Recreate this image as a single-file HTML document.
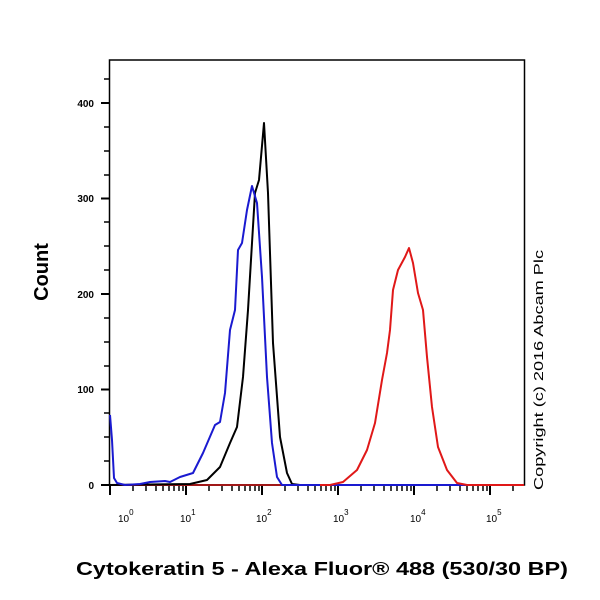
<!DOCTYPE html>
<html><head><meta charset="utf-8"><style>html,body{margin:0;padding:0;background:#fff}svg{display:block}</style></head>
<body>
<svg width="600" height="600" viewBox="0 0 600 600" xmlns="http://www.w3.org/2000/svg" font-family="Liberation Sans, sans-serif">
<rect width="600" height="600" fill="#fff"/>
<!-- plot box -->
<rect x="109.5" y="60" width="415" height="425" fill="none" stroke="#000" stroke-width="1.5"/>
<!-- y ticks -->
<g stroke="#000" stroke-width="2">
<line x1="101" y1="485" x2="109" y2="485"/><line x1="101" y1="389.5" x2="109" y2="389.5"/>
<line x1="101" y1="294" x2="109" y2="294"/><line x1="101" y1="198.5" x2="109" y2="198.5"/>
<line x1="101" y1="103" x2="109" y2="103"/>
</g>
<g stroke="#000" stroke-width="1.5">
<line x1="104" y1="461" x2="109" y2="461"/><line x1="104" y1="437" x2="109" y2="437"/><line x1="104" y1="413" x2="109" y2="413"/>
<line x1="104" y1="366" x2="109" y2="366"/><line x1="104" y1="342" x2="109" y2="342"/><line x1="104" y1="318" x2="109" y2="318"/>
<line x1="104" y1="270" x2="109" y2="270"/><line x1="104" y1="246" x2="109" y2="246"/><line x1="104" y1="222" x2="109" y2="222"/>
<line x1="104" y1="175" x2="109" y2="175"/><line x1="104" y1="151" x2="109" y2="151"/><line x1="104" y1="127" x2="109" y2="127"/>
<line x1="104" y1="79" x2="109" y2="79"/>
</g>
<g font-size="10" font-weight="bold" fill="#000" text-anchor="end">
<text x="94" y="489">0</text><text x="94" y="393">100</text><text x="94" y="298">200</text><text x="94" y="202">300</text><text x="94" y="107">400</text>
</g>
<!-- x ticks -->
<g stroke="#000" stroke-width="2">
<line x1="110" y1="485" x2="110" y2="495"/><line x1="186" y1="485" x2="186" y2="495"/><line x1="262" y1="485" x2="262" y2="495"/>
<line x1="338" y1="485" x2="338" y2="495"/><line x1="414" y1="485" x2="414" y2="495"/><line x1="490" y1="485" x2="490" y2="495"/>
</g>
<g stroke="#000" stroke-width="1.5" id="minor">
<line x1="133" y1="485" x2="133" y2="491"/><line x1="146" y1="485" x2="146" y2="491"/><line x1="156" y1="485" x2="156" y2="491"/><line x1="163" y1="485" x2="163" y2="491"/><line x1="169" y1="485" x2="169" y2="491"/><line x1="174" y1="485" x2="174" y2="491"/><line x1="179" y1="485" x2="179" y2="491"/><line x1="183" y1="485" x2="183" y2="491"/>
<line x1="209" y1="485" x2="209" y2="491"/><line x1="222" y1="485" x2="222" y2="491"/><line x1="232" y1="485" x2="232" y2="491"/><line x1="239" y1="485" x2="239" y2="491"/><line x1="245" y1="485" x2="245" y2="491"/><line x1="250" y1="485" x2="250" y2="491"/><line x1="255" y1="485" x2="255" y2="491"/><line x1="259" y1="485" x2="259" y2="491"/>
<line x1="285" y1="485" x2="285" y2="491"/><line x1="298" y1="485" x2="298" y2="491"/><line x1="308" y1="485" x2="308" y2="491"/><line x1="315" y1="485" x2="315" y2="491"/><line x1="321" y1="485" x2="321" y2="491"/><line x1="326" y1="485" x2="326" y2="491"/><line x1="331" y1="485" x2="331" y2="491"/><line x1="335" y1="485" x2="335" y2="491"/>
<line x1="361" y1="485" x2="361" y2="491"/><line x1="374" y1="485" x2="374" y2="491"/><line x1="384" y1="485" x2="384" y2="491"/><line x1="391" y1="485" x2="391" y2="491"/><line x1="397" y1="485" x2="397" y2="491"/><line x1="402" y1="485" x2="402" y2="491"/><line x1="407" y1="485" x2="407" y2="491"/><line x1="411" y1="485" x2="411" y2="491"/>
<line x1="437" y1="485" x2="437" y2="491"/><line x1="450" y1="485" x2="450" y2="491"/><line x1="460" y1="485" x2="460" y2="491"/><line x1="467" y1="485" x2="467" y2="491"/><line x1="473" y1="485" x2="473" y2="491"/><line x1="478" y1="485" x2="478" y2="491"/><line x1="483" y1="485" x2="483" y2="491"/><line x1="487" y1="485" x2="487" y2="491"/>
<line x1="513" y1="485" x2="513" y2="491"/>
</g>
<g font-size="10" fill="#000">
<text x="118" y="522">10<tspan dy="-7" font-size="8">0</tspan></text>
<text x="180" y="522">10<tspan dy="-7" font-size="8">1</tspan></text>
<text x="256" y="522">10<tspan dy="-7" font-size="8">2</tspan></text>
<text x="333" y="522">10<tspan dy="-7" font-size="8">3</tspan></text>
<text x="410" y="522">10<tspan dy="-7" font-size="8">4</tspan></text>
<text x="486" y="522">10<tspan dy="-7" font-size="8">5</tspan></text>
</g>
<!-- baseline red -->
<line x1="110" y1="485" x2="524" y2="485" stroke="#a01818" stroke-width="2"/>
<!-- curves -->
<g fill="none" stroke-width="2" stroke-linejoin="round">
<polyline stroke="#000" points="110,485 190,484 207,480 220,467 230,443 237,427 243,377 248,310 252,243 255,193 259,180 264,123 268,193 273,343 280,437 287,473 292,484 300,485 524,485"/>
<polyline stroke="#1a1ad0" points="110,415 112,440 114,478 117,483 125,485 140,484 150,482 165,481 170,482 180,477 193,473 203,453 215,425 220,422 225,393 230,330 235,310 238,250 242,243 247,210 252,186 257,203 262,277 267,377 272,443 277,477 282,485 524,485"/>
<polyline stroke="#e01818" points="320,485 330,485 343,482 357,470 367,450 375,423 382,380 387,353 390,330 393,290 398,270 405,257 409,248 413,263 418,293 423,310 427,357 432,407 438,447 447,470 457,483 467,485 524,485"/>
</g>
<!-- titles -->
<text transform="translate(48,272) rotate(-90)" text-anchor="middle" font-size="20" font-weight="bold" fill="#000">Count</text>
<text x="76" y="575" font-size="18" font-weight="bold" fill="#000" textLength="492" lengthAdjust="spacingAndGlyphs">Cytokeratin 5 - Alexa Fluor® 488 (530/30 BP)</text>
<text transform="translate(543,370) rotate(-90)" text-anchor="middle" font-size="13" fill="#000" textLength="240" lengthAdjust="spacingAndGlyphs">Copyright (c) 2016 Abcam Plc</text>
</svg>
</body></html>
